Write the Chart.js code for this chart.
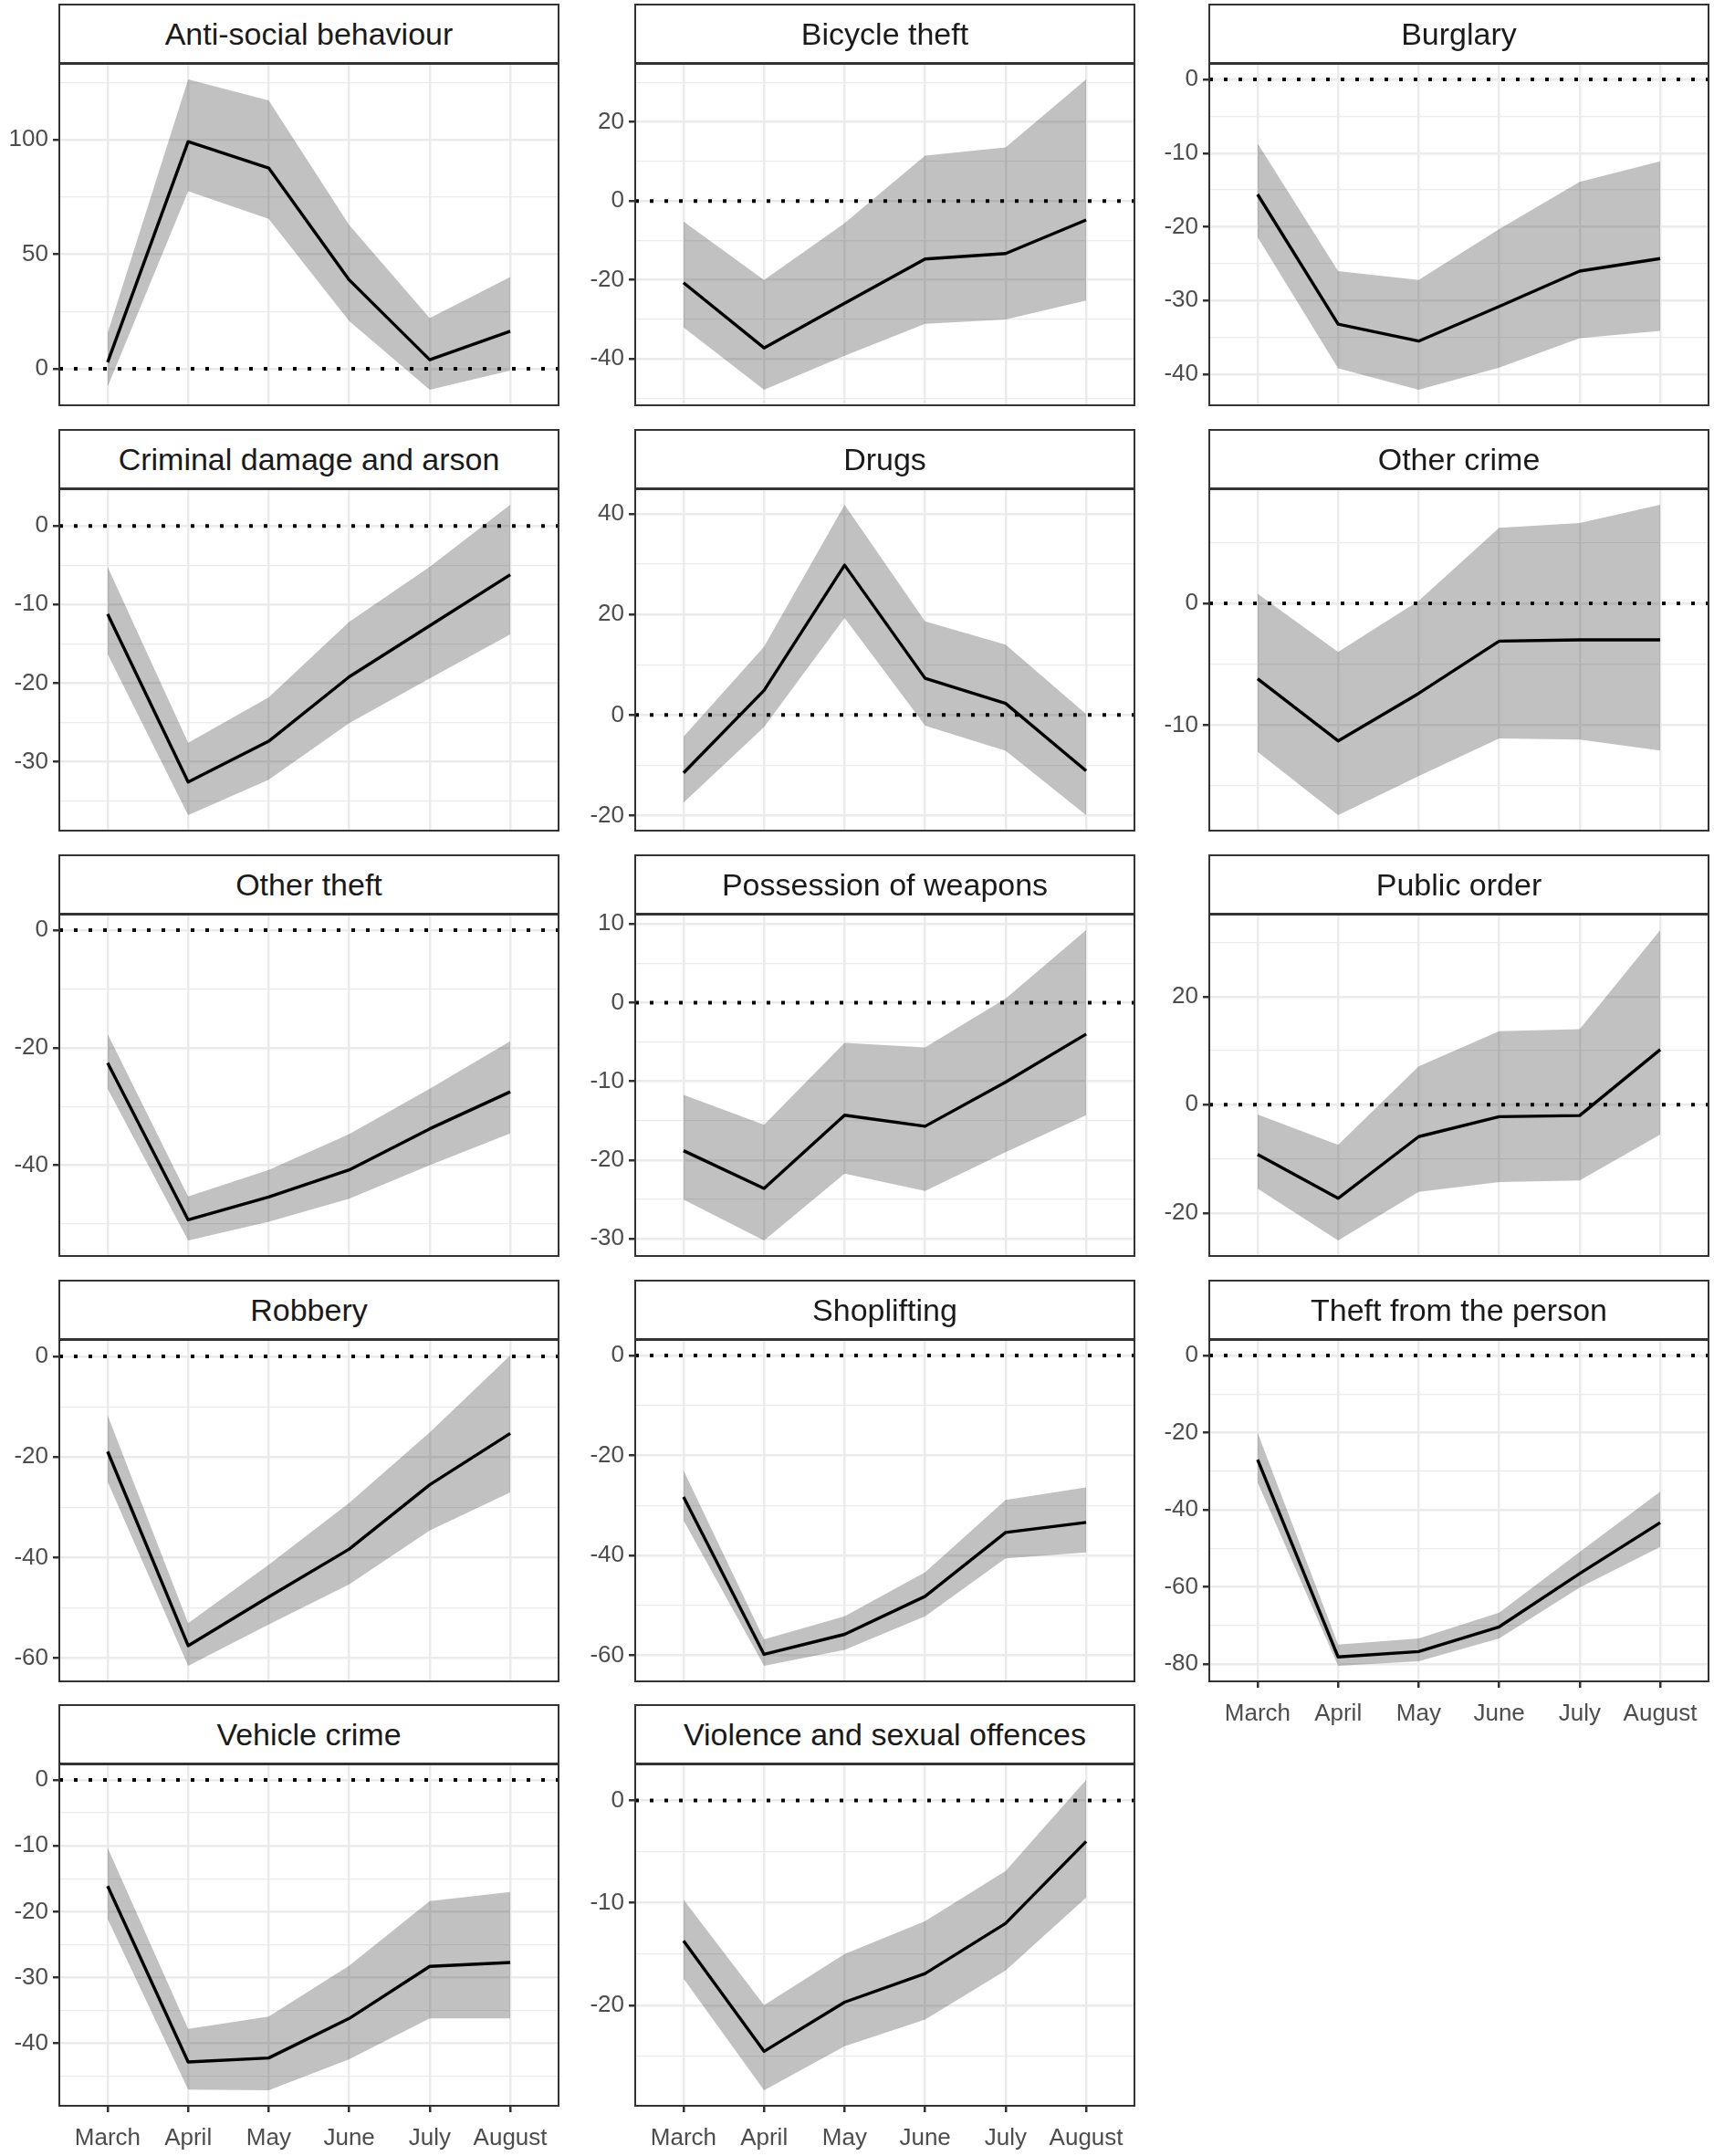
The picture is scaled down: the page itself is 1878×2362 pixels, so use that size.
<!DOCTYPE html>
<html>
<head>
<meta charset="utf-8">
<script src="https://cdn.jsdelivr.net/npm/chart.js@4.4.1/dist/chart.umd.min.js"></script>
<style>
  html, body { margin: 0; padding: 0; background: #fff; }
  #page { position: relative; width: 1878px; height: 2362px; overflow: hidden; background: #fff; }
  .strip {
    position: absolute; box-sizing: border-box; border: 2px solid #333333; background: #fff;
    font: 34px "Liberation Sans", Arial, Helvetica, sans-serif; color: #1a1a1a;
    display: flex; align-items: center; justify-content: center; z-index: 2; white-space: nowrap;
  }
  canvas { position: absolute; z-index: 1; }
</style>
</head>
<body>
<div id="page"></div>
<script>
const months = ['March', 'April', 'May', 'June', 'July', 'August'];

const crimeTypes = [
  'Anti-social behaviour', 'Bicycle theft', 'Burglary',
  'Criminal damage and arson', 'Drugs', 'Other crime',
  'Other theft', 'Possession of weapons', 'Public order',
  'Robbery', 'Shoplifting', 'Theft from the person',
  'Vehicle crime', 'Violence and sexual offences',
];

// point estimate per crime type, March..August
const estimates = [
  [2.8, 99.2, 87.7, 38.8, 3.9, 16.4],
  [-20.7, -37.2, -25.9, -14.7, -13.3, -4.8],
  [-15.6, -33.2, -35.5, -30.8, -26.0, -24.3],
  [-11.2, -32.6, -27.4, -19.2, -12.7, -6.2],
  [-11.5, 4.9, 29.8, 7.3, 2.3, -11.1],
  [-6.2, -11.3, -7.4, -3.1, -3.0, -3.0],
  [-22.6, -49.3, -45.4, -40.8, -33.8, -27.5],
  [-18.8, -23.6, -14.3, -15.7, -10.1, -4.0],
  [-9.2, -17.3, -5.9, -2.2, -2.0, 10.2],
  [-18.9, -57.5, -47.8, -38.3, -25.5, -15.3],
  [-28.3, -59.8, -55.8, -48.2, -35.4, -33.4],
  [-27.0, -78.1, -76.7, -70.3, -56.5, -43.3],
  [-16.1, -42.8, -42.2, -36.2, -28.3, -27.7],
  [-13.7, -24.5, -19.7, -16.9, -12.0, -4.0],
];

// upper bound of the interval
const upperCI = [
  [15.5, 126.4, 117.2, 62.8, 22.1, 40.1],
  [-5.2, -20.0, -5.6, 11.5, 13.6, 30.8],
  [-8.7, -26.0, -27.2, -20.3, -13.9, -11.1],
  [-5.2, -27.6, -21.8, -12.2, -5.2, 2.7],
  [-4.3, 13.6, 41.8, 18.6, 14.0, 0.2],
  [0.8, -4.0, 0.2, 6.2, 6.6, 8.1],
  [-17.7, -45.3, -40.8, -34.7, -27.0, -18.9],
  [-11.7, -15.5, -5.1, -5.7, 0.5, 9.2],
  [-1.8, -7.4, 7.1, 13.6, 14.0, 32.3],
  [-11.7, -53.0, -41.4, -29.1, -15.1, 0.2],
  [-23.0, -56.8, -52.2, -43.4, -28.9, -26.4],
  [-20.0, -74.9, -73.3, -66.6, -50.9, -35.3],
  [-10.3, -37.8, -35.9, -28.2, -18.4, -17.0],
  [-9.7, -20.0, -15.0, -11.8, -6.9, 2.0],
];

// lower bound of the interval
const lowerCI = [
  [-7.9, 77.5, 65.5, 20.8, -9.2, -0.8],
  [-32.0, -47.8, -39.2, -31.1, -30.0, -25.2],
  [-21.4, -39.2, -42.1, -39.1, -35.1, -34.1],
  [-16.3, -36.8, -32.3, -25.1, -19.4, -13.8],
  [-17.4, -2.4, 19.3, -2.1, -7.1, -19.9],
  [-12.2, -17.4, -14.2, -11.1, -11.2, -12.1],
  [-27.0, -52.8, -49.6, -45.7, -40.0, -34.6],
  [-25.0, -30.2, -21.7, -23.9, -19.0, -14.3],
  [-15.5, -25.1, -16.1, -14.3, -14.0, -5.5],
  [-24.9, -61.5, -53.3, -45.3, -34.6, -27.0],
  [-33.0, -62.1, -58.9, -52.2, -40.6, -39.4],
  [-32.9, -80.4, -79.2, -73.3, -60.1, -49.6],
  [-21.1, -47.0, -47.1, -42.4, -36.2, -36.2],
  [-17.4, -28.3, -24.0, -21.4, -16.6, -9.5],
];

// labelled y tick spacing per panel (minor lines sit half way)
const yStep = [50, 20, 10, 10, 20, 10, 20, 10, 20, 20, 20, 20, 10, 10];

// page geometry
const COL_LEFT = [65, 696, 1325];
const ROW_TOP = [4, 470, 936, 1402, 1867];
const PANEL_W = 547;
const STRIP_H = 66;
const PLOT_H = 374;
const AXIS_W = 70;
const X_AXIS_H = 56;
const PAD = 6;

const X_MIN = -0.6;
const X_MAX = months.length - 1 + 0.6;

const GRID = '#ebebeb';
const DARK = '#333333';
const TEXT = '#4d4d4d';
const RIBBON = 'rgba(51, 51, 51, 0.3)';

Chart.defaults.font.family = '"Liberation Sans", Arial, Helvetica, sans-serif';

const panelBorder = {
  id: 'panelBorder',
  afterDraw(chart) {
    const { ctx, chartArea: a } = chart;
    ctx.save();
    ctx.strokeStyle = DARK;
    ctx.lineWidth = 2;
    ctx.strokeRect(a.left, a.top, a.right - a.left, a.bottom - a.top);
    ctx.restore();
  },
};

function yRange(i) {
  const lo = Math.min(0, ...lowerCI[i]);
  const hi = Math.max(0, ...upperCI[i]);
  const pad = (hi - lo) * 0.05;
  return [lo - pad, hi + pad];
}

function toPoints(values) {
  return values.map((v, j) => ({ x: j, y: v }));
}

const page = document.getElementById('page');

crimeTypes.forEach((name, i) => {
  const row = Math.floor(i / 3);
  const col = i % 3;
  const showX = i >= crimeTypes.length - 3;
  const left = COL_LEFT[col];
  const top = ROW_TOP[row];

  const strip = document.createElement('div');
  strip.className = 'strip';
  strip.textContent = name;
  Object.assign(strip.style, {
    left: `${left - 1}px`, top: `${top}px`, width: `${PANEL_W + 2}px`, height: `${STRIP_H}px`,
  });
  page.appendChild(strip);

  const w = AXIS_W + PANEL_W + PAD;
  const h = STRIP_H + PLOT_H + (showX ? X_AXIS_H : 0) + PAD;
  const canvas = document.createElement('canvas');
  canvas.width = w;
  canvas.height = h;
  Object.assign(canvas.style, {
    left: `${left - AXIS_W}px`, top: `${top}px`, width: `${w}px`, height: `${h}px`,
  });
  page.appendChild(canvas);

  const [yMin, yMax] = yRange(i);
  const half = yStep[i] / 2;

  // eslint-disable-next-line no-new
  new Chart(canvas, {
    type: 'line',
    data: {
      datasets: [
        {
          label: 'upper',
          data: toPoints(upperCI[i]),
          fill: '+1',
          backgroundColor: RIBBON,
          borderColor: 'rgba(0,0,0,0)',
          borderWidth: 0,
          pointRadius: 0,
          order: 3,
        },
        {
          label: 'lower',
          data: toPoints(lowerCI[i]),
          fill: false,
          borderColor: 'rgba(0,0,0,0)',
          borderWidth: 0,
          pointRadius: 0,
          order: 3,
        },
        {
          label: 'zero',
          data: [{ x: X_MIN, y: 0 }, { x: X_MAX, y: 0 }],
          borderColor: '#000',
          borderWidth: 4,
          borderDash: [4, 12],
          borderCapStyle: 'butt',
          pointRadius: 0,
          fill: false,
          order: 2,
        },
        {
          label: name,
          data: toPoints(estimates[i]),
          borderColor: '#000',
          borderWidth: 3.4,
          borderJoinStyle: 'round',
          tension: 0,
          pointRadius: 0,
          fill: false,
          order: 1,
        },
      ],
    },
    options: {
      responsive: false,
      animation: false,
      events: [],
      layout: {
        padding: {
          top: STRIP_H, right: PAD, bottom: PAD, left: 0,
        },
      },
      plugins: {
        legend: { display: false },
        tooltip: { enabled: false },
        filler: { propagate: false },
      },
      scales: {
        x: {
          type: 'linear',
          min: X_MIN,
          max: X_MAX,
          border: { display: false },
          afterBuildTicks: (scale) => {
            scale.ticks = months.map((m, j) => ({ value: j }));
          },
          afterFit: (scale) => {
            scale.height = showX ? X_AXIS_H : 0;
            scale.paddingLeft = 0;
            scale.paddingRight = 0;
          },
          grid: {
            color: GRID,
            lineWidth: 2.5,
            drawTicks: showX,
            tickLength: 7,
            tickColor: DARK,
            tickWidth: 2.5,
          },
          ticks: {
            display: showX,
            autoSkip: false,
            maxRotation: 0,
            padding: 13,
            color: TEXT,
            font: { size: 26 },
            callback: (v) => months[v],
          },
        },
        y: {
          type: 'linear',
          min: yMin,
          max: yMax,
          border: { display: false },
          afterBuildTicks: (scale) => {
            const ticks = [];
            for (let k = Math.ceil(yMin / half); k <= Math.floor(yMax / half); k += 1) {
              ticks.push({ value: k * half, lab: k % 2 === 0 });
            }
            scale.ticks = ticks;
          },
          afterFit: (scale) => {
            scale.width = AXIS_W;
            scale.paddingTop = 0;
            scale.paddingBottom = 0;
          },
          grid: {
            color: GRID,
            lineWidth: (ctx) => (ctx.tick && ctx.tick.lab ? 2.5 : 1.3),
            tickLength: 7,
            tickColor: (ctx) => (ctx.tick && ctx.tick.lab ? DARK : 'rgba(0,0,0,0)'),
            tickWidth: 2.5,
          },
          ticks: {
            autoSkip: false,
            padding: 5,
            color: TEXT,
            font: { size: 26 },
            callback: (v, idx, ticks) => (ticks[idx].lab ? String(v) : ''),
          },
        },
      },
    },
    plugins: [panelBorder],
  });
});
</script>
</body>
</html>
